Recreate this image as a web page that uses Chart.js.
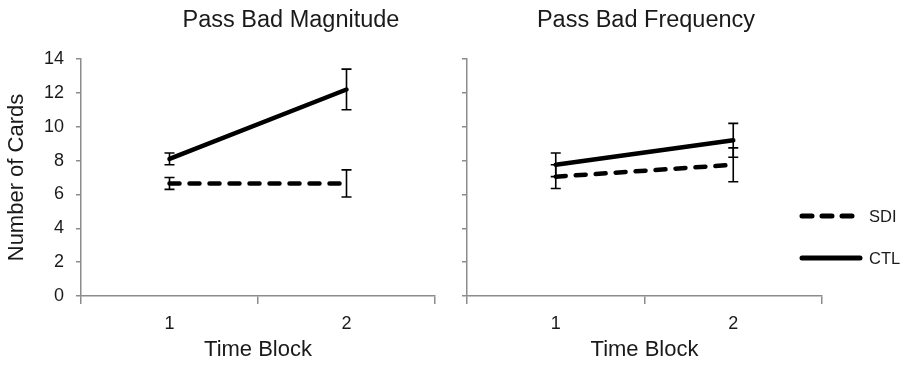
<!DOCTYPE html>
<html>
<head>
<meta charset="utf-8">
<script src="https://cdn.jsdelivr.net/npm/chart.js@4/dist/chart.umd.min.js"></script>
<style>
  body { margin: 0; background: #fff; font-family: "Liberation Sans", Arial, sans-serif; }
  #wrap { position: relative; width: 905px; height: 365px; overflow: hidden; }
  .box { position: absolute; top: 0; height: 365px; }
  .title { position: absolute; top: 8px; width: 300px; font-size: 23.5px; line-height: 1; color: #1a1a1a; text-align: center; white-space: nowrap; }
</style>
</head>
<body>
<div id="wrap">
  <div class="box" style="left:0;width:445px"><canvas id="magChart"></canvas></div>
  <div class="box" style="left:445px;width:460px"><canvas id="freqChart"></canvas></div>
  <div class="title" style="left:141px">Pass Bad Magnitude</div>
  <div class="title" style="left:496px">Pass Bad Frequency</div>
</div>
<script>
const timeBlocks = ["1", "2"];
const yTicks = [0, 2, 4, 6, 8, 10, 12, 14];

// Pass Bad Magnitude
const magSDI = [6.65, 6.65];
const magSDIErr = [0.35, 0.8];
const magCTL = [8.1, 12.2];
const magCTLErr = [0.35, 1.2];

// Pass Bad Frequency
const freqSDI = [7.05, 7.75];
const freqSDIErr = [0.7, 1.0];
const freqCTL = [7.75, 9.2];
const freqCTLErr = [0.7, 1.0];

const seriesNames = ["SDI", "CTL"];

const axisGrey = "#8c8c8c";
const ink = "#1a1a1a";
const fontFam = "'Liberation Sans', Arial, sans-serif";

const errorBars = {
  id: "errorBars",
  afterDatasetsDraw(chart) {
    const { ctx } = chart;
    const y = chart.scales.y;
    ctx.save();
    ctx.strokeStyle = "#000";
    ctx.lineWidth = 1.6;
    chart.data.datasets.forEach((ds, di) => {
      const meta = chart.getDatasetMeta(di);
      meta.data.forEach((pt, i) => {
        const v = ds.data[i], e = ds.errors[i];
        const top = y.getPixelForValue(v + e);
        const bot = y.getPixelForValue(v - e);
        ctx.beginPath();
        ctx.moveTo(pt.x, top); ctx.lineTo(pt.x, bot);
        ctx.moveTo(pt.x - 5, top); ctx.lineTo(pt.x + 5, top);
        ctx.moveTo(pt.x - 5, bot); ctx.lineTo(pt.x + 5, bot);
        ctx.stroke();
      });
    });
    ctx.restore();
  }
};

const sideLegend = {
  id: "sideLegend",
  afterDraw(chart, args, opts) {
    if (!opts.show) return;
    const { ctx } = chart;
    ctx.save();
    chart.data.datasets.forEach((ds, i) => {
      const ly = opts.y[i];
      ctx.beginPath();
      ctx.strokeStyle = "#000";
      ctx.lineWidth = 5;
      ctx.lineCap = "round";
      ctx.setLineDash(ds.borderDash || []);
      ctx.moveTo(opts.x, ly);
      ctx.lineTo(opts.x + 58, ly);
      ctx.stroke();
      ctx.setLineDash([]);
      ctx.fillStyle = ink;
      ctx.font = "16.5px " + fontFam;
      ctx.textBaseline = "middle";
      ctx.fillText(ds.label, opts.x + 67, ly + 1);
    });
    ctx.restore();
  }
};

function makeDatasets(sdi, sdiErr, ctl, ctlErr) {
  return [
    {
      label: seriesNames[0], data: sdi, errors: sdiErr,
      borderColor: "#000", borderWidth: 4.5, borderDash: [10, 10], borderCapStyle: "round",
      pointRadius: 0, fill: false
    },
    {
      label: seriesNames[1], data: ctl, errors: ctlErr,
      borderColor: "#000", borderWidth: 4.5, borderCapStyle: "round",
      pointRadius: 0, fill: false
    }
  ];
}

function buildChart(id, datasets, opts) {
  return new Chart(document.getElementById(id), {
    type: "line",
    data: { labels: timeBlocks, datasets },
    plugins: [errorBars, sideLegend],
    options: {
      responsive: true,
      maintainAspectRatio: false,
      animation: false,
      layout: { padding: { top: 59, right: opts.padRight, left: 0, bottom: 0 } },
      plugins: {
        legend: { display: false },
        tooltip: { enabled: false },
        sideLegend: opts.legend || { show: false }
      },
      scales: {
        x: {
          offset: true,
          afterFit(scale) { scale.height = 69; },
          grid: { offset: true, drawOnChartArea: false, tickLength: 8, color: axisGrey, lineWidth: 1.5 },
          border: { color: axisGrey, width: 1.5 },
          ticks: { color: ink, font: { size: 18, family: fontFam }, padding: 9 },
          title: { display: true, text: "Time Block", color: ink, font: { size: 22, family: fontFam }, padding: { top: 0, bottom: 2 } }
        },
        y: {
          min: 0, max: 14,
          afterFit(scale) { scale.width = opts.yWidth; },
          afterBuildTicks(scale) { scale.ticks = yTicks.map((v) => ({ value: v })); },
          grid: { drawOnChartArea: false, tickLength: 5, color: axisGrey, lineWidth: 1.5 },
          border: { color: axisGrey, width: 1.5 },
          ticks: { display: opts.showYLabels, color: ink, font: { size: 18, family: fontFam }, padding: 12 },
          title: { display: opts.showYLabels, text: "Number of Cards", color: ink, font: { size: 22, family: fontFam }, padding: { top: 4, bottom: 0 } }
        }
      }
    }
  });
}

buildChart("magChart", makeDatasets(magSDI, magSDIErr, magCTL, magCTLErr),
  { padRight: 10, yWidth: 81, showYLabels: true });

buildChart("freqChart", makeDatasets(freqSDI, freqSDIErr, freqCTL, freqCTLErr),
  { padRight: 83, yWidth: 22, showYLabels: false, legend: { show: true, x: 357, y: [216, 258] } });
</script>
</body>
</html>
